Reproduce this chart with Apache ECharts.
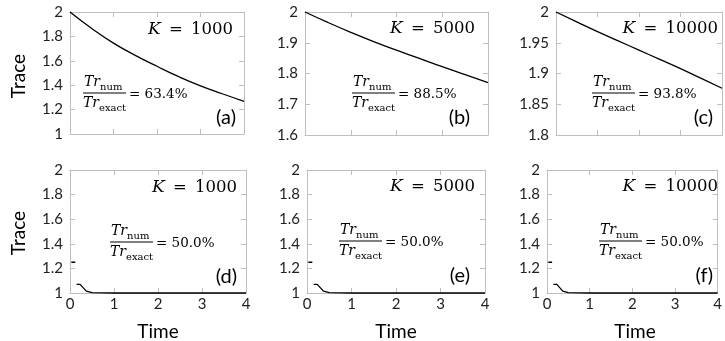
<!DOCTYPE html>
<html>
<head>
<meta charset="utf-8">
<script src="https://cdn.jsdelivr.net/npm/echarts@6/dist/echarts.min.js"></script>
<style>html,body{margin:0;padding:0;background:#fff}#c{width:725px;height:341px}</style>
</head>
<body>
<div id="c"></div>
<script>
// ---- data ----
const xTicks = [0, 1, 2, 3, 4];
const timeTop = [0, 0.5, 1, 1.5, 2, 2.5, 3, 3.5, 4];
const traceA = [2.00, 1.865, 1.745, 1.645, 1.555, 1.47, 1.395, 1.33, 1.268];
const traceB = [2.00, 1.966, 1.934, 1.904, 1.876, 1.849, 1.822, 1.796, 1.770];
const traceC = [2.00, 1.984, 1.968, 1.953, 1.938, 1.923, 1.908, 1.892, 1.876];
const timeBottom = [0, 0.012, null, 0.03, 0.12, null, 0.15, 0.23, 0.37, 0.5, 1, 2, 3, 4];
const traceBottom = [2, 2, null, 1.25, 1.25, null, 1.07, 1.07, 1.015, 1.003, 1.0, 1.0, 1.0, 1.0];
const kValues = ['1000', '5000', '10000', '1000', '5000', '10000'];
const ratios = ['63.4%', '88.5%', '93.8%', '50.0%', '50.0%', '50.0%'];
const tags = ['(a)', '(b)', '(c)', '(d)', '(e)', '(f)'];
const yMins = [1, 1.6, 1.8, 1, 1, 1];
const yMaxs = [2, 2, 2, 2, 2, 2];
const yIntervals = [0.2, 0.1, 0.05, 0.2, 0.2, 0.2];

// ---- layout ----
const grids = [
  {left: 70, top: 12, width: 174, height: 122},
  {left: 305, top: 12, width: 183, height: 123},
  {left: 556, top: 12, width: 166, height: 123},
  {left: 70, top: 170, width: 176, height: 123},
  {left: 307, top: 170, width: 178, height: 123},
  {left: 547, top: 170, width: 176, height: 123}
];
const annot = [
  {kRight: 233, kY: 30, tagRight: 236, tagY: 118, fx: 83, bar: 93},
  {kRight: 475, kY: 29, tagRight: 470, tagY: 118, fx: 352, bar: 93},
  {kRight: 718, kY: 29, tagRight: 713, tagY: 118, fx: 592, bar: 93},
  {kRight: 237, kY: 188, tagRight: 237, tagY: 277, fx: 110, bar: 242},
  {kRight: 475, kY: 187, tagRight: 470, tagY: 276, fx: 339, bar: 241},
  {kRight: 718, kY: 187, tagRight: 713, tagY: 276, fx: 599, bar: 241}
];

const AX = '#bfbfbf';
const SANS = 'Lato';
const SERIF = 'DejaVu Serif';

const pairs = (xs, ys) => xs.map((x, i) => (x === null || ys[i] === null) ? ['-', '-'] : [x, ys[i]]);
const seriesData = [
  pairs(timeTop, traceA), pairs(timeTop, traceB), pairs(timeTop, traceC),
  pairs(timeBottom, traceBottom), pairs(timeBottom, traceBottom), pairs(timeBottom, traceBottom)
];

const xAxis = [], yAxis = [], series = [], graphic = [];
grids.forEach((g, i) => {
  const bottomRow = i >= 3;
  const tick = {show: true, inside: true, length: 5, lineStyle: {color: AX, width: 1}};
  const line = {show: true, onZero: false, lineStyle: {color: AX, width: 1}};
  xAxis.push({
    type: 'value', gridIndex: i, min: xTicks[0], max: xTicks[xTicks.length - 1], interval: 1,
    axisLine: line, axisTick: tick, splitLine: {show: false},
    axisLabel: {show: bottomRow, color: '#222', fontFamily: SANS, fontSize: 15, margin: 4}
  });
  xAxis.push({
    type: 'value', gridIndex: i, position: 'top', min: xTicks[0], max: xTicks[xTicks.length - 1], interval: 1,
    axisLine: line, axisTick: tick, splitLine: {show: false}, axisLabel: {show: false}
  });
  yAxis.push({
    type: 'value', gridIndex: i, min: yMins[i], max: yMaxs[i], interval: yIntervals[i],
    axisLine: line, axisTick: tick, splitLine: {show: false},
    axisLabel: {color: '#222', fontFamily: SANS, fontSize: 15, margin: 7}
  });
  yAxis.push({
    type: 'value', gridIndex: i, position: 'right', min: yMins[i], max: yMaxs[i], interval: yIntervals[i],
    axisLine: line, axisTick: tick, splitLine: {show: false}, axisLabel: {show: false}
  });
  series.push({
    type: 'line', xAxisIndex: 2 * i, yAxisIndex: 2 * i, data: seriesData[i],
    showSymbol: false, symbol: 'none', connectNulls: false, clip: false,
    smooth: bottomRow ? false : 0.5,
    lineStyle: {color: '#000', width: 1.3}, silent: true, animation: false
  });

  const a = annot[i];
  graphic.push({
    type: 'text', x: a.kRight, y: a.kY,
    style: {
      text: '{k|K}{n|\u2002=\u2002' + kValues[i] + '}',
      rich: {
        k: {fontFamily: SERIF, fontStyle: 'italic', fontSize: 17, fill: '#000'},
        n: {fontFamily: SERIF, fontSize: 16.5, fill: '#000'}
      },
      textAlign: 'right', align: 'right', textVerticalAlign: 'middle', verticalAlign: 'middle'
    }
  });
  graphic.push({
    type: 'text', x: a.tagRight, y: a.tagY,
    style: {
      text: tags[i], font: '20px ' + SANS, fill: '#000',
      textAlign: 'right', align: 'right', textVerticalAlign: 'middle', verticalAlign: 'middle'
    }
  });
  const w = 43;
  const txt = (x, y, s, size, italic, alignH) => ({
    type: 'text', x: x, y: y,
    style: {
      text: s, font: (italic ? 'italic ' : '') + size + 'px ' + SERIF, fill: '#000',
      textAlign: alignH, align: alignH, textVerticalAlign: 'middle', verticalAlign: 'middle'
    }
  });
  graphic.push(txt(a.fx + 17, a.bar - 11, 'Tr', 14, true, 'right'));
  graphic.push(txt(a.fx + 17, a.bar - 6, 'num', 10, false, 'left'));
  graphic.push({type: 'line', shape: {x1: a.fx, y1: a.bar, x2: a.fx + w, y2: a.bar}, style: {stroke: '#000', lineWidth: 1}});
  graphic.push(txt(a.fx + 16, a.bar + 10, 'Tr', 14, true, 'right'));
  graphic.push(txt(a.fx + 16, a.bar + 15, 'exact', 10, false, 'left'));
  graphic.push(txt(a.fx + w + 3, a.bar + 1.5, '= ' + ratios[i], 13.5, false, 'left'));
});

const title = (x, y, s, rot) => ({
  type: 'text', x: x, y: y, rotation: rot,
  style: {text: s, font: '19px ' + SANS, fill: '#000', textAlign: 'center', align: 'center',
          textVerticalAlign: 'middle', verticalAlign: 'middle'}
});
graphic.push(title(19, 76, 'Trace', Math.PI / 2));
graphic.push(title(19, 233, 'Trace', Math.PI / 2));
[3, 4, 5].forEach(i => graphic.push(title(grids[i].left + grids[i].width / 2, 332, 'Time', 0)));

const chart = echarts.init(document.getElementById('c'), null, {renderer: 'canvas'});
chart.setOption({
  animation: false,
  grid: grids.map(g => Object.assign({containLabel: false}, g)),
  xAxis: xAxis, yAxis: yAxis, series: series, graphic: graphic
});
</script>
</body>
</html>
